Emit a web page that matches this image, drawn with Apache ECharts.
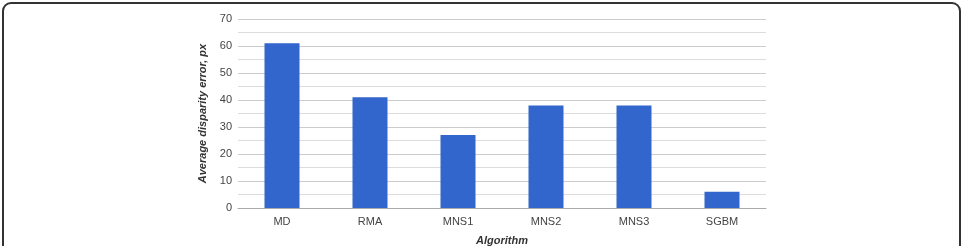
<!DOCTYPE html>
<html>
<head>
<meta charset="utf-8">
<script src="https://cdn.jsdelivr.net/npm/echarts@6/dist/echarts.min.js"></script>
<style>
  html, body { margin: 0; padding: 0; background: #fff; overflow: hidden; }
  .frame {
    position: absolute; left: 2px; top: 2px; width: 959px; height: 260px;
    border: 2px solid #333; border-radius: 9px; box-sizing: border-box;
  }
  #main { position: absolute; left: 0; top: 0; width: 967px; height: 246px; }
</style>
</head>
<body>
<div class="frame"></div>
<div id="main"></div>
<script>
const categories = ['MD', 'RMA', 'MNS1', 'MNS2', 'MNS3', 'SGBM'];
const errors = [61, 41, 27, 38, 38, 6];

const chart = echarts.init(document.getElementById('main'));
chart.setOption({
  animation: false,
  grid: { left: 238, right: 201, top: 19, bottom: 38, outerBoundsMode: 'none', containLabel: false },
  xAxis: {
    type: 'category',
    data: categories,
    name: 'Algorithm',
    nameLocation: 'middle',
    nameGap: 27,
    nameTextStyle: { fontFamily: 'Liberation Sans', fontSize: 11, fontStyle: 'italic', fontWeight: 'bold', color: '#333' },
    axisTick: { show: false },
    axisLine: { lineStyle: { color: '#aaa' } },
    axisLabel: { fontFamily: 'Liberation Sans', fontSize: 11, color: '#444', margin: 8 }
  },
  yAxis: {
    type: 'value',
    min: 0,
    max: 70,
    interval: 10,
    name: 'Average disparity error, px',
    nameLocation: 'middle',
    nameGap: 28,
    nameTextStyle: { fontFamily: 'Liberation Sans', fontSize: 11, fontStyle: 'italic', fontWeight: 'bold', color: '#333' },
    axisLabel: { fontFamily: 'Liberation Sans', fontSize: 11, color: '#444', margin: 6 },
    splitLine: { lineStyle: { color: '#ccc' } },
    minorTick: { show: false, splitNumber: 2 },
    minorSplitLine: { show: true, lineStyle: { color: '#ddd' } }
  },
  series: [{
    type: 'bar',
    data: errors,
    barWidth: 35,
    itemStyle: { color: '#3366cc' }
  }]
});
</script>
</body>
</html>
